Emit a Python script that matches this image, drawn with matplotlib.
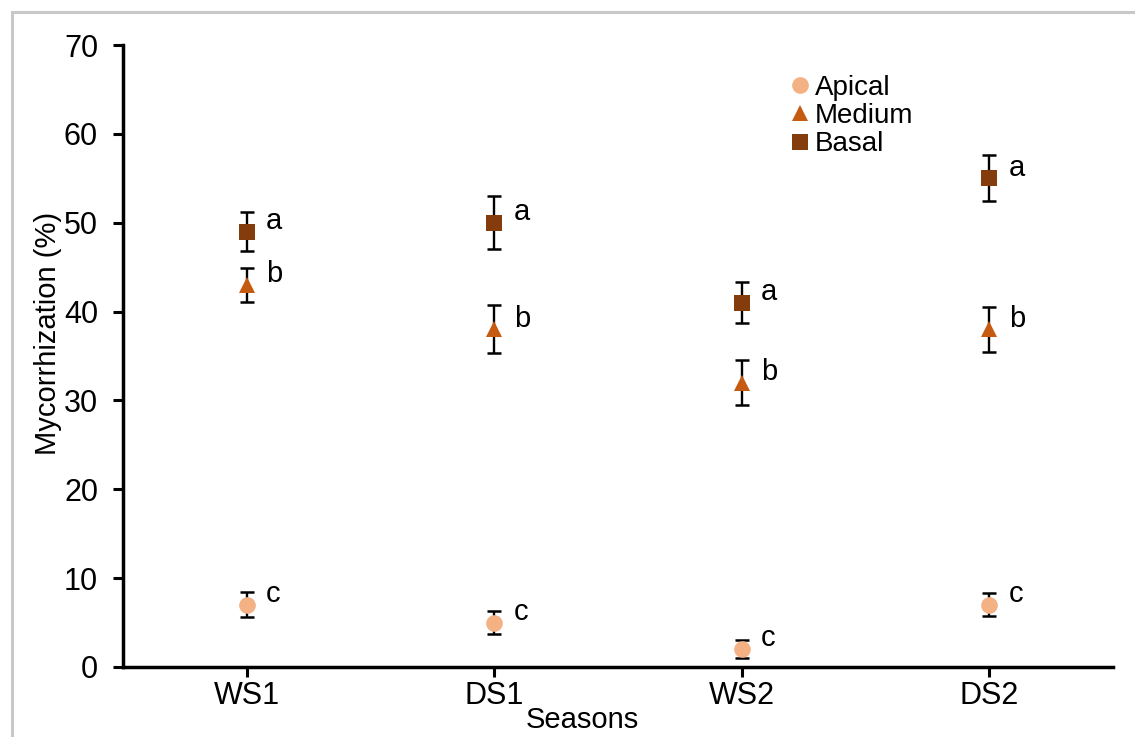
import numpy as np
import matplotlib.pyplot as plt
from matplotlib.patches import Rectangle

# Data
seasons = ['WS1', 'DS1', 'WS2', 'DS2']
apical = [7, 5, 2, 7]
apical_err = [1.4, 1.3, 1.0, 1.3]
medium = [43, 38, 32, 38]
medium_err = [1.9, 2.7, 2.5, 2.5]
basal = [49, 50, 41, 55]
basal_err = [2.2, 3.0, 2.3, 2.6]
apical_letters = ['c', 'c', 'c', 'c']
medium_letters = ['b', 'b', 'b', 'b']
basal_letters = ['a', 'a', 'a', 'a']

plt.rcParams['font.family'] = ['Liberation Sans', 'DejaVu Sans']

fig = plt.figure(figsize=(11.35, 7.37), dpi=100)
ax = fig.add_axes([0.1084, 0.095, 0.8722, 0.8439])

# Gray frame (left and top only visible)
fig.add_artist(Rectangle((12 / 1135, -0.1), 1.2, 1 - 12 / 737 + 0.1, transform=fig.transFigure,
                         fill=False, edgecolor='#c8c8c8', linewidth=2.2))

x = np.arange(1, len(seasons) + 1)
series = [
    (apical, apical_err, apical_letters, 'o', '#f4b183', 12, 'Apical'),
    (medium, medium_err, medium_letters, '^', '#c55a11', 11, 'Medium'),
    (basal, basal_err, basal_letters, 's', '#843c0c', 12, 'Basal'),
]
for vals, errs, letters, mk, col, ms, lab in series:
    ax.errorbar(x, vals, yerr=errs, fmt='none', ecolor='black', elinewidth=1.7,
                capsize=5, capthick=1.8, zorder=2)
    ax.plot(x, vals, linestyle='none', marker=mk, color=col, markersize=ms,
            markeredgewidth=0, label=lab, zorder=3)
    for xi, v, l in zip(x, vals, letters):
        ax.annotate(l, (xi, v), xytext=(14, 2), textcoords='offset points',
                    ha='left', va='baseline', fontsize=21)

ax.set_xlim(0.5, 4.5)
ax.set_ylim(0, 70)
ax.set_yticks(np.arange(0, 71, 10))
ax.set_xticks(x)
ax.set_xticklabels(seasons)
ax.tick_params(axis='both', labelsize=22, width=2.2, length=7, direction='out')
ax.tick_params(axis='x', pad=3)
ax.tick_params(axis='y', pad=11)
for side in ['top', 'right']:
    ax.spines[side].set_visible(False)
for side in ['left', 'bottom']:
    ax.spines[side].set_linewidth(2.5)

ax.set_ylabel('Mycorrhization (%)', fontsize=21)
ax.set_xlabel('Seasons', fontsize=21, labelpad=0)
ax.xaxis.set_label_coords(0.464, -0.062)
ax.yaxis.set_label_coords(-0.062, 0.537)

ax.legend(loc='upper left', bbox_to_anchor=(0.668, 0.952), frameon=False, fontsize=20,
          handletextpad=0.0, labelspacing=0.08, handlelength=1.1, borderaxespad=0,
          borderpad=0)

fig.savefig('out.png', dpi=100)
